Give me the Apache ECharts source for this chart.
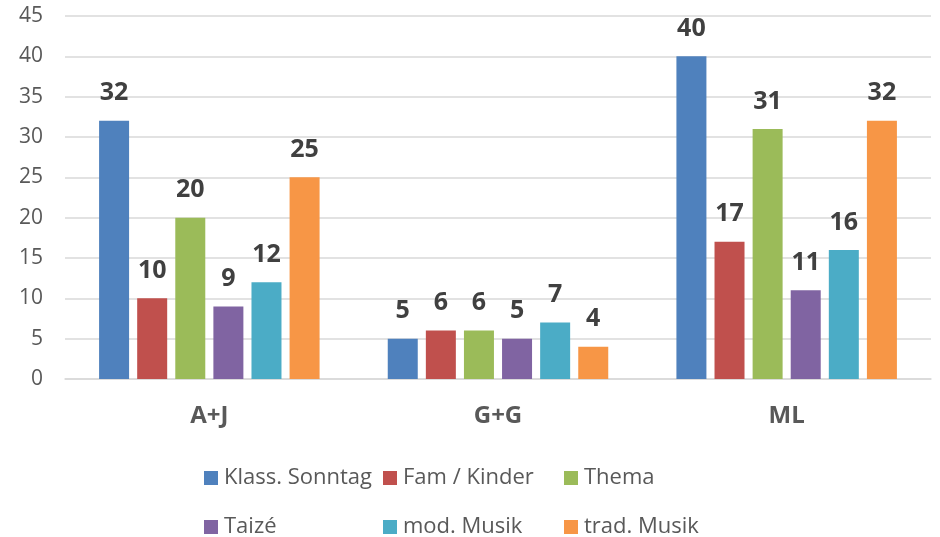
<!DOCTYPE html>
<html>
<head>
<meta charset="utf-8">
<script src="https://cdn.jsdelivr.net/npm/echarts@6/dist/echarts.min.js"></script>
<style>
  html, body { margin: 0; padding: 0; background: #fff; }
  #main { width: 940px; height: 537px; }
</style>
</head>
<body>
<div id="main"></div>
<script>
// data
const categories = ['A+J', 'G+G', 'ML'];
const seriesNames = ['Klass. Sonntag', 'Fam / Kinder', 'Thema', 'Taizé', 'mod. Musik', 'trad. Musik'];
const klassSonntag = [32, 5, 40];
const famKinder = [10, 6, 17];
const thema = [20, 6, 31];
const taize = [9, 5, 11];
const modMusik = [12, 7, 16];
const tradMusik = [25, 4, 32];
const colors = ['#4F81BD', '#C0504D', '#9BBB59', '#8064A2', '#4BACC6', '#F79646'];

const values = [klassSonntag, famKinder, thema, taize, modMusik, tradMusik];
const font = 'Open Sans, Liberation Sans, sans-serif';

const myChart = echarts.init(document.getElementById('main'));

// legend: 3 columns x 2 rows
const legendCols = [199, 378, 559];
const legendRows = [462, 511];
const legends = seriesNames.map(function (name, i) {
  return {
    data: [name],
    left: legendCols[i % 3],
    top: legendRows[Math.floor(i / 3)],
    itemWidth: 14,
    itemHeight: 14,
    itemGap: 6,
    icon: 'rect',
    textStyle: { fontFamily: font, fontSize: 22, color: '#595959', padding: [0, 0, 0, 1] }
  };
});

const series = seriesNames.map(function (name, i) {
  return {
    name: name,
    type: 'bar',
    data: values[i],
    barWidth: 30,
    barGap: '27%',
    itemStyle: { color: colors[i] },
    label: {
      show: true,
      position: 'top',
      distance: 15,
      fontFamily: font,
      fontSize: 25,
      fontWeight: 'bold',
      color: '#404040'
    }
  };
});

const option = {
  animation: false,
  color: colors,
  legend: legends,
  grid: { left: 65, right: 9, top: 16, bottom: 158 },
  xAxis: {
    type: 'category',
    data: categories,
    axisLine: { lineStyle: { color: '#d9d9d9', width: 1.5 } },
    axisTick: { show: false },
    axisLabel: { fontFamily: font, fontSize: 24, fontWeight: 'bold', color: '#595959', margin: 25 }
  },
  yAxis: {
    type: 'value',
    min: 0,
    max: 45,
    interval: 5,
    axisLine: { show: false },
    axisTick: { show: false },
    splitLine: { lineStyle: { color: '#d9d9d9', width: 1.5 } },
    axisLabel: { fontFamily: font, fontSize: 21, color: '#595959', margin: 22 }
  },
  series: series
};

myChart.setOption(option);
</script>
</body>
</html>
